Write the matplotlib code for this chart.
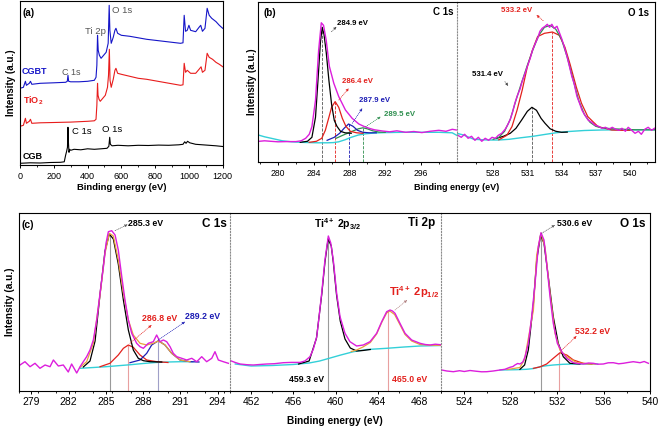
import numpy as np
import matplotlib
matplotlib.use('Agg')
import matplotlib.pyplot as plt

plt.rcParams['font.family'] = ['Liberation Sans', 'DejaVu Sans']
plt.rcParams['mathtext.fontset'] = 'custom'
plt.rcParams['mathtext.rm'] = 'Liberation Sans'
plt.rcParams['mathtext.bf'] = 'Liberation Sans:bold'
plt.rcParams['mathtext.it'] = 'Liberation Sans:italic'

# ---------------- data (intensity in a.u.) ----------------
# (a) survey spectra
cgb_ev = [0, 60, 120, 180, 240, 262, 270, 276, 281, 284, 287, 290, 294, 300, 320, 360, 400, 440, 480,
          515, 526, 531, 535, 545, 580, 640, 700, 760, 820, 880, 940, 965, 975, 983, 992, 1005, 1040,
          1080, 1120, 1160, 1200]
cgb = [2, 2.5, 2.3, 2.8, 3, 3.5, 10, 14, 18, 38, 22, 13, 16, 15, 16, 15.5, 16.5, 16, 16.5,
       17, 19, 28, 21, 19.5, 20, 19.5, 20, 19.8, 20.2, 20, 20.5, 21, 23.5, 22, 24, 22.5, 21,
       20.5, 20, 19.5, 18.8]
tio2_ev = [0, 20, 32, 38, 55, 62, 70, 120, 200, 300, 400, 440, 450, 455, 459, 462, 468, 475, 490,
           505, 518, 524, 529, 533, 540, 552, 562, 568, 578, 600, 650, 700, 750, 800, 850, 900, 950,
           965, 972, 980, 990, 1010, 1040, 1060, 1072, 1080, 1095, 1108, 1120, 1140, 1160, 1180, 1200]
tio2 = [39, 40, 47, 42, 44, 46, 42, 42.5, 42.8, 43.2, 44, 44.5, 46, 60, 82, 70, 66, 64, 67,
        70, 78, 90, 116, 85, 78, 86, 95, 97, 92, 91, 89, 87, 86, 84.5, 83, 81.5, 80,
        80.5, 102, 93, 95, 92, 92, 96, 98.5, 93, 95, 112, 108, 106, 103, 101, 98.6]
cgbt_ev = [0, 20, 32, 38, 55, 62, 70, 120, 200, 270, 280, 284, 288, 300, 350, 400, 440, 450, 455,
           459, 463, 470, 480, 495, 510, 522, 528, 532, 540, 552, 562, 568, 578, 600, 650, 700, 750,
           800, 850, 900, 950, 965, 972, 980, 990, 1000, 1010, 1040, 1060, 1070, 1080, 1095, 1108,
           1120, 1135, 1160, 1180, 1200]
cgbt = [77, 78, 84, 80, 82, 84, 81, 82, 82.5, 83, 84, 90, 84, 83.5, 83.5, 84, 85, 88, 100,
        130, 115, 110, 107, 110, 113, 122, 160, 135, 122, 128, 135, 137, 132, 130, 129, 127.5, 126,
        125, 124, 123, 122, 122.5, 150, 134, 135, 140, 135, 133.6, 138, 140, 134, 137, 157,
        150, 147, 143.7, 140, 137]

# (b) C 1s of CGB
bc_ev = [277.9, 278.5, 279.2, 280, 281, 282, 282.6, 283.1, 283.5, 283.8, 284.2, 284.55, 284.85, 285.1,
         285.4, 285.75, 286.25, 286.8, 287.55, 288.3, 289.05, 289.6, 290.2, 290.8, 291.7, 292.5, 293.3,
         294.3, 295.2, 296.1, 297, 298, 298.8, 299.5, 299.95]
bc_raw = [21, 21.5, 21, 20.5, 20.7, 20.7, 21.5, 24, 28, 35.7, 62, 112, 139.5, 137, 122, 96, 79, 65.7,
          52.3, 44, 38.3, 36, 34, 32.5, 31.3, 30.5, 31.5, 30, 30.8, 29.7, 31, 32, 31, 33, 32.3]
bc_bg_ev = [277.8, 278.5, 279.5, 280.5, 281.5, 282.5, 283.5, 284.5, 285.5, 286.2, 286.8, 287.5, 288.2,
            289, 289.8, 290.8, 292, 294, 296, 298, 299.5, 300]
bc_bg = [27.3, 25.5, 23.5, 21.5, 20.5, 20, 19.7, 19.5, 19.5, 19.7, 20.5, 22.5, 25, 27.3, 28.5, 29.3,
         29.7, 30, 30, 30, 29.5, 27]
bc_p1_ev = [282.5, 283.3, 283.8, 284.2, 284.5, 284.75, 284.95, 285.15, 285.4, 285.7, 286.0, 286.3,
            286.6, 287.0, 287.5, 288.2]
bc_p1 = [20, 21, 25, 45, 85, 120, 135, 128, 110, 82, 58, 42, 36, 31, 29.5, 29]
bc_p2_ev = [283.5, 284.3, 284.9, 285.3, 285.7, 286.0, 286.4, 286.8, 287.2, 287.6, 288.1, 288.8, 289.5]
bc_p2 = [20, 21, 24, 32, 45, 55, 60.7, 55, 44, 36, 31, 29.5, 29]
bc_p3_ev = [285.5, 286.3, 286.9, 287.4, 287.9, 288.4, 288.9, 289.5, 290.2, 291]
bc_p3 = [22, 25, 29, 34, 38.3, 36, 32, 30, 29.5, 29.5]
bc_p4_ev = [286.5, 287.5, 288.3, 289.0, 289.5, 290.0, 290.6, 291.3, 292]
bc_p4 = [24, 28, 31, 33.5, 34.5, 33.5, 31.5, 30.2, 30]
bc_peaks = [284.9, 286.4, 287.9, 289.5]
bc_tops = [135, 60.7, 38.3, 34.5]

# (b) O 1s of CGB
bo_ev = [524.9, 525.2, 525.5, 525.8, 526.1, 526.4, 526.7, 527.0, 527.3, 527.6, 527.9, 528.2, 528.45,
         528.75, 529.05, 529.3, 529.5, 529.7, 529.9, 530.1, 530.35, 530.55, 530.8, 531.0, 531.25,
         531.45, 531.7, 531.9, 532.1, 532.3, 532.55, 532.75, 532.95, 533.15, 533.35, 533.6, 533.8,
         534.0, 534.2, 534.45, 534.65, 534.9, 535.1, 535.35, 535.55, 535.8, 536.05, 536.35, 536.65,
         536.95, 537.25, 537.55, 537.85, 538.15, 538.45, 538.75, 539.05, 539.3, 539.6, 539.85, 540.15,
         540.45, 540.75, 541.0, 541.3, 541.6, 541.9, 542.15]
bo_raw = [27, 25, 28, 24, 26, 22, 25, 21, 24, 22, 25, 24, 27, 29, 33, 38, 43, 50, 59, 66, 73, 81, 89,
          96, 104, 112, 119, 124, 131, 134, 136, 138, 135, 138, 134, 136, 130, 124, 117, 107, 98, 86,
          79, 66, 60, 52, 47, 42, 40, 37, 36, 34, 35, 33, 35, 33, 32, 34, 31, 35, 32, 29, 31, 28, 33,
          35, 32, 34]
bo_env_ev = [528.0, 528.5, 529.0, 529.5, 530.0, 530.5, 531.0, 531.5, 532.0, 532.5, 533.0, 533.5, 534.0,
             534.5, 535.0, 535.5, 536.0, 536.5, 537.0, 537.5, 538.5, 539.5, 540.5, 541.5, 542.2]
bo_env = [23, 25, 31, 43, 62, 80, 97, 113, 127, 135, 137, 133, 123, 105, 83, 62, 48, 40, 36, 34.5,
          33.5, 33, 32.5, 32.5, 32.5]
bo_p1_ev = [528.3, 528.9, 529.5, 530.0, 530.5, 531.0, 531.4, 531.8, 532.2, 532.55, 533.0, 533.5, 534.0,
            534.5]
bo_p1 = [24, 26, 29, 34, 42.3, 51, 55, 52, 44, 39, 33.5, 31, 30, 30.2]
bo_p2_ev = [528.5, 529.2, 529.65, 530.1, 530.55, 531.0, 531.45, 531.9, 532.5, 533.2, 533.8, 534.3,
            534.75, 535.3, 535.75, 536.3, 537.2, 538.4, 539.3, 540]
bo_p2 = [22.5, 27, 35.7, 52.3, 72.3, 95.7, 112.3, 125.7, 129, 130.3, 127, 115, 98, 75, 59, 45.7, 35.7,
         32.3, 32, 32]
bo_bg_ev = [524.8, 525.4, 526.3, 527.5, 528.5, 529.4, 530.4, 531.5, 532.5, 533.5, 534.5, 536, 537.5,
            539, 540.5, 542.2]
bo_bg = [29, 27.3, 23, 22.3, 22.3, 23, 24.5, 26, 27.8, 29.5, 30.7, 31.8, 32.3, 32.5, 32.5, 32.5]
bo_peaks = [531.4, 533.2]
bo_tops = [55, 130.3]

# (c) C 1s of CGBT
cc_ev = [278.08, 278.48, 278.89, 279.29, 279.69, 280.10, 280.50, 280.77, 281.17, 281.57, 281.97, 282.24,
         282.65, 282.92, 283.18, 283.45, 283.72, 283.99, 284.26, 284.53, 284.80, 285.01, 285.20, 285.47,
         285.74, 286.0, 286.28, 286.54, 286.81, 287.08, 287.48, 287.75, 288.02, 288.42, 288.82, 289.09,
         289.36, 289.63, 289.9, 290.17, 290.43, 290.71, 291.11, 291.51, 291.92, 292.32, 292.72, 293.12,
         293.53, 293.79, 294.06, 294.46, 294.87]
cc_raw = [26, 29.3, 24.3, 27.7, 22.7, 26, 24.3, 31, 25, 26, 19, 27, 18, 24.3, 29.3, 34.3, 41, 51, 71,
          97.7, 124.3, 147.7, 159.3, 160.3, 156, 141, 114.3, 91, 71, 57.7, 47.7, 44.3, 42.7, 47.7, 49.3,
          56, 49.3, 51, 49.3, 44.3, 37.7, 34.3, 32.7, 31, 32.7, 29.3, 34.3, 29.3, 32.7, 39.3, 31, 29.3,
          27.7]
cc_env_ev = [282.92, 283.45, 283.99, 284.53, 284.93, 285.28, 285.6, 286.0, 286.41, 286.81, 287.21,
             287.75, 288.29, 288.82, 289.23, 289.76, 290.3, 290.97, 291.78]
cc_env = [23.7, 29.3, 47.7, 96, 137.7, 157.7, 155, 131, 97.7, 71, 56, 47.7, 46, 47.7, 50, 46, 37.7,
          31, 29.3]
cc_p1_ev = [283.18, 283.72, 284.13, 284.53, 284.93, 285.28, 285.6, 286.0, 286.41, 286.81, 287.21,
            287.61, 288.02, 288.55, 289.5]
cc_p1 = [24, 30, 50, 97, 140, 157, 152, 127, 91, 61, 41, 32.7, 30.3, 29.3, 29]
cc_p2_ev = [284.53, 285.33, 286.0, 286.41, 286.81, 287.21, 287.75, 288.29, 289.09, 290.0]
cc_p2 = [24.3, 27.7, 36, 42.7, 46, 43.7, 36, 31, 29.3, 28.5]
cc_p3_ev = [286.94, 287.75, 288.29, 288.69, 289.23, 289.76, 290.3, 290.97, 291.78, 292.5]
cc_p3 = [28.3, 31, 37.7, 46, 50.3, 46, 37.7, 31, 29.3, 29]
cc_bg_ev = [282.92, 284, 285, 286, 287, 288, 289, 290, 291, 292]
cc_bg = [22.7, 23.5, 24.3, 25.3, 26.3, 27.5, 28.5, 29, 29.3, 29.3]
cc_peaks = [285.3, 286.8, 289.2]
cc_tops = [157, 46, 50.3]

# (c) Ti 2p of CGBT
ct_ev = [450.05, 450.5, 450.95, 451.6, 452.21, 452.8, 453.48, 454.2, 455.06, 455.8, 456.64, 457.1,
         457.58, 457.9, 458.22, 458.45, 458.69, 459.0, 459.32, 459.55, 459.79, 460.11, 460.43, 460.9,
         461.37, 462.0, 462.64, 463.27, 463.9, 464.38, 464.85, 465.17, 465.4, 465.64, 466.11, 466.59,
         467.22, 468.01, 468.5, 468.96, 469.45, 469.95]
ct_raw = [30.3, 28.5, 27, 26.3, 26, 26.5, 27, 27.3, 28.3, 28.6, 28.6, 30, 34.3, 42, 54.3, 75, 97.7,
          131, 155, 148, 131, 97.7, 74.3, 57.7, 49.3, 45, 46, 49.3, 57.7, 69.3, 79.3, 81, 80, 77.7,
          67.7, 57.7, 51, 47.7, 46.5, 46, 46.8, 46.3]
ct_bg_ev = [450.5, 452.0, 454, 456, 457.5, 458.5, 459.5, 460.5, 461.7, 463, 464.85, 466.5, 468, 470]
ct_bg = [27, 25, 25.5, 26.5, 28, 30, 33, 36, 39.3, 41.5, 42.7, 44, 45, 45.5]
ct_p1_ev = [456.5, 457.5, 458.2, 458.7, 459.0, 459.3, 459.6, 459.8, 460.1, 460.45, 460.9, 461.4, 462.0,
            462.6, 463.3]
ct_p1 = [27, 30, 53, 97, 129, 152, 145, 128, 96, 70, 52, 43, 40, 40.5, 41.5]
ct_p2_ev = [461.5, 462.0, 462.6, 463.3, 463.9, 464.4, 464.85, 465.15, 465.6, 466.1, 466.59, 467.22,
            468.0, 469, 470]
ct_p2 = [39.5, 41, 44, 48.5, 57, 69, 78, 80, 76.5, 66.5, 56.5, 50, 46.5, 45.8, 45.6]
ct_peaks = [459.3, 465.0]
ct_tops = [154, 80]

# (c) O 1s of CGBT
co_ev = [522.06, 522.5, 523.06, 523.6, 524.0, 524.5, 525.0, 525.5, 525.94, 526.5, 527.08, 527.5, 527.94,
         528.2, 528.37, 528.6, 528.8, 529.05, 529.24, 529.52, 529.81, 530.1, 530.38, 530.61, 530.87,
         531.1, 531.39, 531.67, 532.02, 532.4, 532.83, 533.4, 533.8, 534.26, 534.7, 535.12, 535.5,
         535.98, 536.4, 536.84, 537.3, 537.7, 538.1, 538.56, 539.14, 539.5, 539.86]
co_raw = [21, 20, 19.3, 20.3, 19.5, 20.5, 19.8, 19.2, 19.3, 20, 21, 21.7, 23.7, 24.5, 26, 27.5, 27, 29,
          34.3, 47.7, 74.3, 107.7, 144.3, 158.3, 151, 127.7, 94.3, 67.7, 47.7, 39.3, 32.7, 28.3, 27.5,
          27, 28, 27.7, 26.8, 27, 28.2, 28.3, 27.2, 27.7, 28.5, 29.3, 28.3, 29.5, 27.7]
co_env_ev = [527.7, 528.8, 529.2, 529.96, 530.24, 530.61, 530.96, 531.39, 531.82, 532.25, 532.83, 533.7,
             534.5, 535.3]
co_env = [21.5, 23.5, 31.7, 81, 136, 157.7, 144, 97.7, 57.7, 40.7, 34.3, 28.3, 27.3, 27]
co_p1_ev = [528.8, 529.2, 529.52, 529.96, 530.24, 530.58, 530.87, 531.24, 531.67, 532.1, 532.53, 533.1,
            533.96]
co_p1 = [21.7, 26, 41, 87.7, 131, 156, 147.7, 114.3, 74.3, 47.7, 34.3, 27.7, 27]
co_p2_ev = [529.96, 530.5, 531.1, 531.67, 532.25, 532.83, 533.4, 534.26, 535]
co_p2 = [22.7, 24, 27, 32.7, 38.3, 36, 31, 27.7, 27]
co_bg_ev = [527.08, 528.5, 529.38, 530.0, 530.53, 531.1, 531.67, 532.5, 533.4, 534.5, 535.5]
co_bg = [21, 21.3, 21.7, 22.5, 24.3, 25.3, 26, 26.7, 27, 27, 27]
co_peaks = [530.6, 532.2]
co_tops = [156, 38.3]

# ---------------- styles ----------------
MAG = '#dc1edc'
CYAN = '#33d0d8'
RED = '#e3201c'
BLUE = '#1c1cb4'
GREEN = '#2f8f4f'
ORANGE = '#e8a23c'

W, H = 661, 429
fig = plt.figure(figsize=(W / 100, H / 100), dpi=100)


def rect(l, r, t, b):
    return [l / W, 1 - b / H, (r - l) / W, (b - t) / H]


def make_ax(box, xlim, ylim, major, minor, fs, left=True, right=True):
    ax = fig.add_axes(box)
    ax.set_xlim(*xlim)
    ax.set_ylim(*ylim)
    ax.set_xticks(major)
    ax.set_xticks(minor, minor=True)
    ax.set_yticks([])
    ax.tick_params(axis='x', which='major', direction='out', length=2.5, width=0.7, pad=2, labelsize=fs)
    ax.tick_params(axis='x', which='minor', direction='out', length=1.5, width=0.6)
    for s in ax.spines.values():
        s.set_linewidth(0.8)
    if not left:
        ax.spines['left'].set_linestyle(':')
        ax.spines['left'].set_color('#8a8a8a')
    if not right:
        ax.spines['right'].set_visible(False)
    return ax


def arrow(ax, tail, head, color):
    ax.annotate('', xy=head, xytext=tail,
                arrowprops=dict(arrowstyle='-|>', color=color, lw=0.5, mutation_scale=4,
                                shrinkA=0, shrinkB=0, linestyle=':'))


# ---------------- (a) ----------------
axa = make_ax(rect(20, 222.7, 1, 165.3), (0, 1200), (0, 164.3), np.arange(0, 1201, 200),
              np.arange(100, 1200, 200), 6.5)
axa.plot(cgb_ev, cgb, color='black', lw=0.8)
axa.plot(tio2_ev, tio2, color='#e81c1c', lw=0.8)
axa.plot(cgbt_ev, cgbt, color='#1515c8', lw=0.8)
axa.set_xlabel('Binding energy (eV)', fontsize=6.8, fontweight='bold', labelpad=2)
axa.set_ylabel('Intensity (a.u.)', fontsize=7, fontweight='bold', labelpad=3)
axa.text(12, 152, '(a)', fontsize=7, fontweight='bold', va='center')
axa.text(543, 155, 'O 1s', fontsize=6.8, color='#555555', va='center')
axa.text(385, 133.6, 'Ti 2p', fontsize=6.8, color='#555555', va='center')
axa.text(12, 93.6, 'CGBT', fontsize=6.5, color='#1515c8', fontweight='bold', va='center')
axa.text(249, 92.6, 'C 1s', fontsize=6.5, color='#555555', va='center')
axa.text(18, 65, r'TiO$_\mathbf{2}$', fontsize=6.5, color='#e81c1c', fontweight='bold', va='center')
axa.text(308, 34.3, 'C 1s', fontsize=6.8, color='black', va='center')
axa.text(485, 35.3, 'O 1s', fontsize=6.8, color='black', va='center')
axa.text(18, 8.6, 'CGB', fontsize=6.5, color='black', fontweight='bold', va='center')

# ---------------- (b) ----------------
yb = (0, 160.6)
axb1 = make_ax(rect(258.3, 456.7, 1.7, 162.3), (277.8, 300), yb, [280, 284, 288, 292, 296],
               np.arange(278, 300, 2), 6.2, right=False)
axb2 = make_ax(rect(456.7, 655, 1.7, 162.3), (524.8, 542.2), yb, [528, 531, 534, 537, 540],
               np.arange(526.5, 542, 1.5), 6.2, left=False)
for x, top, c, ls in zip(bc_peaks, bc_tops, ['#555555', RED, BLUE, GREEN], ['--'] * 4):
    axb1.vlines(x, 0, top, colors=c, lw=0.6, linestyles=ls)
axb1.plot(bc_bg_ev, bc_bg, color=CYAN, lw=1.0)
axb1.plot(bc_p4_ev, bc_p4, color=GREEN, lw=0.9)
axb1.plot(bc_p3_ev, bc_p3, color=BLUE, lw=0.9)
axb1.plot(bc_p2_ev, bc_p2, color=RED, lw=0.9)
axb1.plot(bc_p1_ev, bc_p1, color='black', lw=0.9)
axb1.plot(bc_ev, bc_raw, color=MAG, lw=1.0)
axb1.set_ylabel('Intensity (a.u.)', fontsize=7, fontweight='bold', labelpad=1)
axb1.text(278.4, 149, '(b)', fontsize=7, fontweight='bold', va='center')
axb1.text(299.6, 150.6, 'C 1s', fontsize=7, fontweight='bold', va='center', ha='right')
axb1.text(286.66, 139, '284.9 eV', fontsize=5.6, fontweight='bold', va='center')
axb1.text(288.85, 80.6, '286.4 eV', fontsize=5.6, fontweight='bold', va='center', ha='center', color=RED)
axb1.text(290.76, 61.3, '287.9 eV', fontsize=5.6, fontweight='bold', va='center', ha='center', color=BLUE)
axb1.text(293.57, 47.3, '289.5 eV', fontsize=5.6, fontweight='bold', va='center', ha='center', color=GREEN)
arrow(axb1, (285.99, 130.6), (286.55, 135.6), '#444444')
arrow(axb1, (286.81, 62.3), (287.93, 74), RED)
arrow(axb1, (288.31, 39), (289.44, 54), BLUE)
arrow(axb1, (289.81, 35.6), (291.49, 45.6), GREEN)

for x, top, c in zip(bo_peaks, bo_tops, ['#555555', RED]):
    axb2.vlines(x, 0, top, colors=c, lw=0.6, linestyles='--')
axb2.plot(bo_bg_ev, bo_bg, color=CYAN, lw=1.0)
axb2.plot(bo_p1_ev, bo_p1, color='black', lw=0.9)
axb2.plot(bo_p2_ev, bo_p2, color=RED, lw=0.9)
axb2.plot(bo_env_ev, bo_env, color=GREEN, lw=0.9)
axb2.plot(bo_ev, bo_raw, color=MAG, lw=1.0)
axb2.text(541.7, 149.3, 'O 1s', fontsize=7, fontweight='bold', va='center', ha='right')
axb2.text(530.05, 151.3, '533.2 eV', fontsize=5.6, fontweight='bold', va='center', ha='center', color=RED)
axb2.text(527.54, 87.3, '531.4 eV', fontsize=5.6, fontweight='bold', va='center', ha='center')
arrow(axb2, (532.39, 141.6), (531.8, 147.3), RED)
arrow(axb2, (529.03, 80.6), (529.32, 76.3), '#444444')
fig.text(456.7 / W, 1 - 187 / H, 'Binding energy (eV)', fontsize=6.5, fontweight='bold',
         ha='center', va='center')

# ---------------- (c) ----------------
yc = (0, 178)
axc1 = make_ax(rect(19, 230, 213, 391), (278, 295), yc, np.arange(279, 295, 3),
               np.arange(278, 295, 1.5), 7.5, right=False)
axc2 = make_ax(rect(230, 441, 213, 391), (450, 470), yc, np.arange(452, 470, 4),
               np.arange(450, 470.1, 2), 7.5, left=False, right=False)
axc3 = make_ax(rect(441, 650, 213, 391), (522, 540), yc, np.arange(524, 541, 4),
               np.arange(522, 540.1, 2), 7.5, left=False)

for x, top, c in zip(cc_peaks, cc_tops, ['#9a9a9a', '#e8a0a0', '#a0a0c8']):
    axc1.vlines(x, 0, top, colors=c, lw=0.8)
axc1.plot(cc_bg_ev, cc_bg, color=CYAN, lw=1.0)
axc1.plot(cc_p2_ev, cc_p2, color=RED, lw=0.9)
axc1.plot(cc_p3_ev, cc_p3, color=BLUE, lw=0.9)
axc1.plot(cc_p1_ev, cc_p1, color='black', lw=0.9)
axc1.plot(cc_env_ev, cc_env, color=ORANGE, lw=0.9)
axc1.plot(cc_ev, cc_raw, color=MAG, lw=1.0)
axc1.set_ylabel('Intensity (a.u.)', fontsize=7.3, fontweight='bold', labelpad=3)
axc1.text(278.24, 166, '(c)', fontsize=7.5, fontweight='bold', va='center')
axc1.text(294.76, 167, 'C 1s', fontsize=8.5, fontweight='bold', va='center', ha='right')
axc1.text(286.8, 167.7, '285.3 eV', fontsize=6.3, fontweight='bold', va='center')
axc1.text(289.32, 72.7, '286.8 eV', fontsize=6.3, fontweight='bold', va='center', ha='center', color=RED)
axc1.text(292.75, 74.3, '289.2 eV', fontsize=6.3, fontweight='bold', va='center', ha='center', color=BLUE)
arrow(axc1, (285.74, 160.3), (286.75, 166.5), '#555555')
arrow(axc1, (286.94, 47.7), (288.69, 66), RED)
arrow(axc1, (289.22, 51), (291.38, 69.3), BLUE)

for x, top, c in zip(ct_peaks, ct_tops, ['#9a9a9a', '#e8a0a0']):
    axc2.vlines(x, 0, top, colors=c, lw=0.8)
axc2.plot(ct_bg_ev, ct_bg, color=CYAN, lw=1.0)
axc2.plot(ct_p1_ev, ct_p1, color='black', lw=0.9)
axc2.plot(ct_p2_ev, ct_p2, color=ORANGE, lw=0.9)
axc2.plot(ct_ev, ct_raw, color=MAG, lw=1.0)
axc2.text(460.24, 167, r'Ti$^{\mathbf{4+}}$ 2p$_{\mathbf{3/2}}$', fontsize=7.5, fontweight='bold',
          va='center', ha='center')
axc2.text(469.43, 168, 'Ti 2p', fontsize=8.5, fontweight='bold', va='center', ha='right')
axc2.text(469.85, 99.3, r'Ti$^{\mathbf{4+}}$ 2p$_{\mathbf{1/2}}$', fontsize=8, fontweight='bold',
          va='center', ha='right', color=RED)
axc2.text(457.27, 11, '459.3 eV', fontsize=6.3, fontweight='bold', va='center', ha='center')
axc2.text(467.06, 11, '465.0 eV', fontsize=6.3, fontweight='bold', va='center', ha='center', color=RED)
arrow(axc2, (465.64, 81), (466.8, 91), '#b08080')

for x, top, c in zip(co_peaks, co_tops, ['#9a9a9a', '#e8a0a0']):
    axc3.vlines(x, 0, top, colors=c, lw=0.8)
axc3.plot(co_bg_ev, co_bg, color=CYAN, lw=1.0)
axc3.plot(co_p2_ev, co_p2, color=RED, lw=0.9)
axc3.plot(co_p1_ev, co_p1, color='black', lw=0.9)
axc3.plot(co_env_ev, co_env, color=ORANGE, lw=0.9)
axc3.plot(co_ev, co_raw, color=MAG, lw=1.0)
axc3.text(539.57, 167, 'O 1s', fontsize=8.5, fontweight='bold', va='center', ha='right')
axc3.text(531.97, 167.7, '530.6 eV', fontsize=6.3, fontweight='bold', va='center')
axc3.text(535.09, 59.3, '532.2 eV', fontsize=6.3, fontweight='bold', va='center', ha='center', color=RED)
arrow(axc3, (530.67, 157.7), (531.82, 166), '#555555')
arrow(axc3, (532.4, 41), (533.69, 55), RED)

fig.text(334.5 / W, 1 - 421 / H, 'Binding energy (eV)', fontsize=7.3, fontweight='bold',
         ha='center', va='center')

fig.savefig('out.png', dpi=100)
